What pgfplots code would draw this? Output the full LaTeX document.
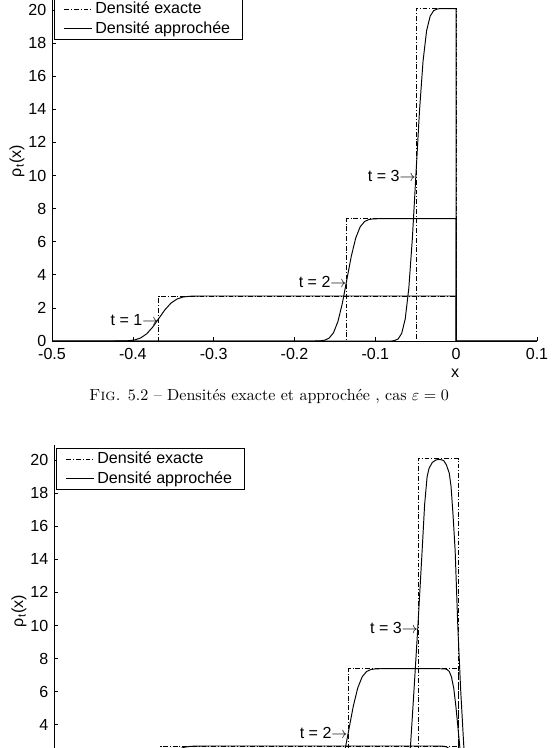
\documentclass[border=0pt]{standalone}
\usepackage{fontspec}
\usepackage{pgfplots}
\pgfplotsset{compat=1.18}
\newfontfamily\arial{Liberation Sans}

\pgfplotsset{
  rho/.style={
    scale only axis, width=302.16pt, height=215.5pt,
    xmin=-0.5, xmax=0.1, ymin=0, ymax=20.9,
    axis lines*=left,
    axis line style={line width=0.5pt},
    tick align=inside, major tick length=2.5pt,
    tick style={black, line width=0.4pt},
    xtick={-0.5,-0.4,-0.3,-0.2,-0.1,0,0.1},
    xticklabels={-0.5,-0.4,-0.3,-0.2,-0.1,0,0.1},
    ytick={0,2,4,6,8,10,12,14,16,18,20},
    yticklabels={0,2,4,6,8,10,12,14,16,18,20},
    tick label style={font=\arial},
    xticklabel style={yshift=-1pt},
    label style={font=\arial},
    ylabel={ρ\textsubscript{t}(x)},
    ylabel style={at={(axis description cs:-0.072,0.52)}, anchor=center},
    legend style={at={(axis description cs:0.005,0.993)}, anchor=north west,
      draw=black, line width=0.5pt, font=\arial, inner xsep=5.6pt, inner ysep=1pt,
      row sep=0pt, nodes={inner xsep=2pt, inner ysep=1.6pt},
      /tikz/every even column/.append style={column sep=8pt}},
    legend cell align=left,
  },
  exact/.style={black, line width=0.45pt, dash pattern=on 3pt off 1.2pt on 0.6pt off 1.2pt},
  approx/.style={black, line width=0.6pt},
}

\begin{document}
\begin{tikzpicture}
\useasboundingbox (0,0) rectangle (345.14pt,466pt);
\clip (0,0) rectangle (345.14pt,466pt);

% ---------------- top axis ----------------
\begin{axis}[rho, at={(32.40pt,253.56pt)}, anchor=south west,
  xlabel={x},
  xlabel style={at={(axis description cs:0.831,0)}, anchor=center, yshift=-19.8pt}]
\addlegendimage{exact}\addlegendentry{Densité exacte}
\addlegendimage{approx}\addlegendentry{Densité approchée}
% exact densities
\addplot[exact, forget plot] coordinates {(-0.5,0) (-0.3679,0) (-0.3679,2.718) (0,2.718) (0,0) (0.1,0)};
\addplot[exact, forget plot] coordinates {(-0.5,0) (-0.1353,0) (-0.1353,7.389) (0,7.389) (0,0) (0.1,0)};
\addplot[exact, forget plot] coordinates {(-0.5,0) (-0.0498,0) (-0.0498,20.086) (0,20.086) (0,0) (0.1,0)};
% approximate densities
\addplot[approx, forget plot] coordinates {(-0.5,0) (-0.425,0) (-0.4129,0.0037) (-0.4054,0.0169) (-0.3979,0.062) (-0.3904,0.1816) (-0.3829,0.4313) (-0.3754,0.8385) (-0.3679,1.359) (-0.3604,1.8795) (-0.3529,2.2867) (-0.3454,2.5364) (-0.3379,2.656) (-0.3304,2.7011) (-0.3229,2.7143) (-0.31,2.718) (0,2.718) (0,0) (0.1,0)};
\addplot[approx, forget plot] coordinates {(-0.5,0) (-0.175,0) (-0.1683,0.0100) (-0.1628,0.0458) (-0.1573,0.1685) (-0.1518,0.4936) (-0.1463,1.1726) (-0.1408,2.2795) (-0.1353,3.6945) (-0.1298,5.1095) (-0.1243,6.2164) (-0.1188,6.8954) (-0.1133,7.2205) (-0.1078,7.3432) (-0.1023,7.379) (-0.095,7.389) (0,7.389) (0,0) (0.1,0)};
\addplot[approx, forget plot] coordinates {(-0.5,0) (-0.08,0) (-0.0762,0.0271) (-0.0718,0.1245) (-0.0674,0.458) (-0.063,1.3417) (-0.0586,3.1876) (-0.0542,6.1965) (-0.0498,10.043) (-0.0454,13.889) (-0.041,16.898) (-0.0366,18.744) (-0.0322,19.628) (-0.0278,19.961) (-0.0234,20.059) (-0.019,20.086) (0,20.086) (0,0) (0.1,0)};
\node[anchor=east, font=\arial, inner sep=0pt] at (axis cs:-0.3679,1.27) {t = 1$\rightarrow$};
\node[anchor=east, font=\arial, inner sep=0pt] at (axis cs:-0.1353,3.57) {t = 2$\rightarrow$};
\node[anchor=east, font=\arial, inner sep=0pt] at (axis cs:-0.0498,9.97) {t = 3$\rightarrow$};
\end{axis}

\node[font=\normalsize] at (167.6pt,219pt) {\textsc{Fig.} 5.2 -- Densités exacte et approchée , cas $\varepsilon = 0$};

% ---------------- bottom axis (cut off by the page edge) ----------------
\begin{axis}[rho, at={(33.64pt,-26.79pt)}, anchor=south west,
  xticklabels={}, ytick={4,6,8,10,12,14,16,18,20},
  yticklabels={4,6,8,10,12,14,16,18,20}]
\addlegendimage{exact}\addlegendentry{Densité exacte}
\addlegendimage{approx}\addlegendentry{Densité approchée}
\addplot[exact, forget plot] coordinates {(-0.5,0) (-0.3679,0) (-0.3679,2.718) (0,2.718) (0,0) (0.1,0)};
\addplot[exact, forget plot] coordinates {(-0.5,0) (-0.1353,0) (-0.1353,7.389) (0,7.389) (0,0) (0.1,0)};
\addplot[exact, forget plot] coordinates {(-0.5,0) (-0.0498,0) (-0.0498,20.086) (0,20.086) (0,0) (0.1,0)};
\addplot[approx, forget plot] coordinates {(-0.5,0) (-0.425,0) (-0.4129,0.0037) (-0.4054,0.0169) (-0.3979,0.062) (-0.3904,0.1816) (-0.3829,0.4313) (-0.3754,0.8385) (-0.3679,1.359) (-0.3604,1.8795) (-0.3529,2.2867) (-0.3454,2.5364) (-0.3379,2.656) (-0.3304,2.7011) (-0.3229,2.7143) (-0.31,2.718) (-0.028,2.718) (-0.021,2.7143) (-0.0175,2.701) (-0.014,2.656) (-0.0105,2.536) (-0.007,2.287) (-0.0035,1.88) (0,1.359) (0.0035,0.8385) (0.007,0.431) (0.0105,0.182) (0.014,0.062) (0.0175,0.017) (0.021,0.004) (0.03,0) (0.1,0)};
\addplot[approx, forget plot] coordinates {(-0.5,0) (-0.175,0) (-0.1683,0.0100) (-0.1628,0.0458) (-0.1573,0.1685) (-0.1518,0.4936) (-0.1463,1.1726) (-0.1408,2.2795) (-0.1353,3.6945) (-0.1298,5.1095) (-0.1243,6.2164) (-0.1188,6.8954) (-0.1133,7.2205) (-0.1078,7.3432) (-0.1023,7.379) (-0.095,7.389) (-0.024,7.389) (-0.0165,7.379) (-0.0138,7.343) (-0.011,7.220) (-0.0083,6.895) (-0.0055,6.216) (-0.0028,5.110) (0,3.695) (0.0028,2.280) (0.0055,1.173) (0.0083,0.494) (0.011,0.169) (0.0138,0.046) (0.0165,0.010) (0.025,0) (0.1,0)};
\addplot[approx, forget plot] coordinates {(-0.5,0) (-0.076,0) (-0.072,0.08) (-0.0685,0.35) (-0.065,1.0) (-0.062,1.8) (-0.059,2.7) (-0.0545,6.2) (-0.0499,9.9) (-0.0446,14.5) (-0.0415,17.3) (-0.0384,19.0) (-0.036,19.5) (-0.032,19.85) (-0.0275,20.0) (-0.0231,20.04) (-0.018,19.97) (-0.0145,19.7) (-0.011,19.2) (-0.0088,18.4) (-0.0065,16.8) (-0.0037,14.5) (-0.0004,9.9) (0.003,6.2) (0.0071,2.6) (0.0095,1.2) (0.012,0.4) (0.015,0.08) (0.018,0) (0.1,0)};
\node[anchor=east, font=\arial, inner sep=0pt] at (axis cs:-0.1365,3.52) {t = 2$\rightarrow$};
\node[anchor=east, font=\arial, inner sep=0pt] at (axis cs:-0.0495,9.85) {t = 3$\rightarrow$};
\end{axis}
\end{tikzpicture}
\end{document}
